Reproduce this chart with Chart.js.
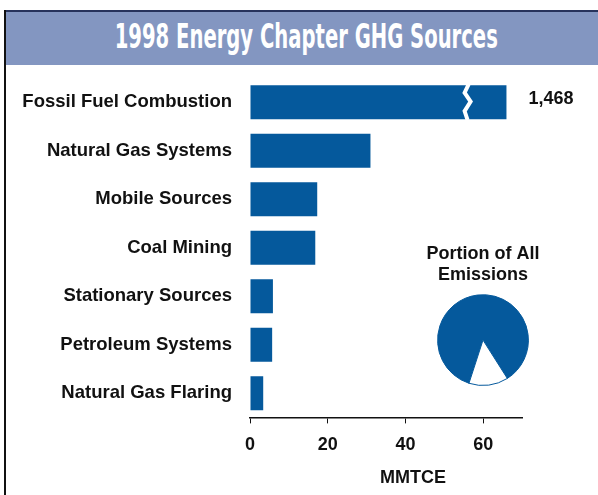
<!DOCTYPE html>
<html>
<head>
<meta charset="utf-8">
<script src="https://cdn.jsdelivr.net/npm/chart.js@4.4.1/dist/chart.umd.min.js"></script>
<style>
  body { margin: 0; background: #fff; }
  #wrap { position: relative; width: 598px; height: 495px; overflow: hidden; }
  #frame { position: absolute; left: 4px; top: 10px; width: 2px; height: 485px; background: #111; }
  #head {
    position: absolute; left: 6px; top: 10px; right: 0; height: 55px; box-sizing: border-box;
    background: #8396c1; border-top: 2px solid #27335c;
    display: flex; align-items: center; justify-content: center;
  }
  #head span {
    color: #fff; font-family: "Liberation Sans Narrow", "DejaVu Sans Condensed", sans-serif;
    font-weight: bold; font-size: 33px; display: inline-block; transform: scaleX(0.66);
    white-space: nowrap; margin-top: -4px; margin-left: 8px;
  }
  #bars { position: absolute; left: 0; top: 0; width: 598px; height: 495px; }
  #pie { position: absolute; left: 403px; top: 243px; width: 160px; height: 143px; }
</style>
</head>
<body>
<div id="wrap">
  <div id="head"><span>1998 Energy Chapter GHG Sources</span></div>
  <div id="frame"></div>
  <div id="bars"><canvas id="barChart"></canvas></div>
  <div id="pie"><canvas id="pieChart"></canvas></div>
</div>
<script>
const sources = ["Fossil Fuel Combustion", "Natural Gas Systems", "Mobile Sources", "Coal Mining",
  "Stationary Sources", "Petroleum Systems", "Natural Gas Flaring"];
// first bar is broken, real value is printed next to it
const mmtce = [66, 31, 17.3, 16.8, 5.9, 5.7, 3.4];
const valueLabels = ["1,468", "", "", "", "", "", ""];
const breakAt = 56;
const xTicks = [0, 20, 40, 60];
const xMax = 70;
const pieLabels = ["Energy", "Other"];
const pieShares = [86, 14];

const BLUE = "#05599c";
const FONT = "'Liberation Sans', Arial, sans-serif";
Chart.defaults.font.family = FONT;
Chart.defaults.color = "#111";

// zigzag break, value label, unit label
const extras = {
  id: "extras",
  afterDatasetsDraw(chart) {
    const ctx = chart.ctx;
    const xs = chart.scales.x;
    const meta = chart.getDatasetMeta(0);
    meta.data.forEach((bar, i) => {
      const p = bar.getProps(["x", "y", "height"], true);
      const top = p.y - p.height / 2, h = p.height;
      if (valueLabels[i]) {
        const bx = xs.getPixelForValue(breakAt);
        ctx.save();
        ctx.strokeStyle = "#fff";
        ctx.lineWidth = 4;
        ctx.beginPath();
        ctx.moveTo(bx + 1, top - 1);
        ctx.lineTo(bx - 3, top + h * 0.22);
        ctx.lineTo(bx + 3, top + h * 0.48);
        ctx.lineTo(bx - 3, top + h * 0.76);
        ctx.lineTo(bx, top + h + 1);
        ctx.stroke();
        ctx.fillStyle = "#111";
        ctx.font = "bold 18px " + FONT;
        ctx.textBaseline = "middle";
        ctx.fillText(valueLabels[i], p.x + 22, p.y - 3);
        ctx.restore();
      }
    });
    const ca = chart.chartArea;
    ctx.save();
    ctx.fillStyle = "#111";
    ctx.font = "bold 18px " + FONT;
    ctx.textAlign = "center";
    ctx.textBaseline = "middle";
    ctx.fillText("MMTCE", (ca.left + ca.right) / 2 + 27, 478);
    ctx.restore();
  }
};

new Chart(document.getElementById("barChart"), {
  type: "bar",
  data: {
    labels: sources,
    datasets: [{ data: mmtce, backgroundColor: BLUE, categoryPercentage: 1, barPercentage: 0.7 }]
  },
  options: {
    indexAxis: "y",
    responsive: true,
    maintainAspectRatio: false,
    animation: false,
    layout: { padding: { top: 78, right: 76, bottom: 28, left: 0 } },
    plugins: { legend: { display: false }, tooltip: { enabled: false } },
    scales: {
      x: {
        min: 0, max: xMax,
        afterBuildTicks: (s) => { s.ticks = xTicks.map(v => ({ value: v })); },
        border: { display: true, color: "#111", width: 1.5 },
        grid: { drawOnChartArea: false, drawTicks: true, tickLength: 6, color: "#111" },
        ticks: { padding: 11, color: "#111", font: { size: 18, weight: "bold" } }
      },
      y: {
        afterFit: (s) => { s.width = 250; },
        border: { display: false },
        grid: { display: false },
        ticks: { padding: 10, color: "#111", font: { size: 18.5, weight: "bold" } }
      }
    }
  },
  plugins: [extras]
});

new Chart(document.getElementById("pieChart"), {
  type: "pie",
  data: {
    labels: pieLabels,
    datasets: [{ data: pieShares, backgroundColor: [BLUE, "#fff"], borderColor: BLUE, borderWidth: 1 }]
  },
  options: {
    responsive: true,
    maintainAspectRatio: false,
    animation: false,
    rotation: 198,
    plugins: {
      legend: { display: false },
      tooltip: { enabled: false },
      title: {
        display: true,
        text: ["Portion of All", "Emissions"],
        color: "#111",
        font: { size: 18, weight: "bold", lineHeight: 1.2 },
        padding: { top: 0, bottom: 8 }
      }
    }
  }
});
</script>
</body>
</html>
